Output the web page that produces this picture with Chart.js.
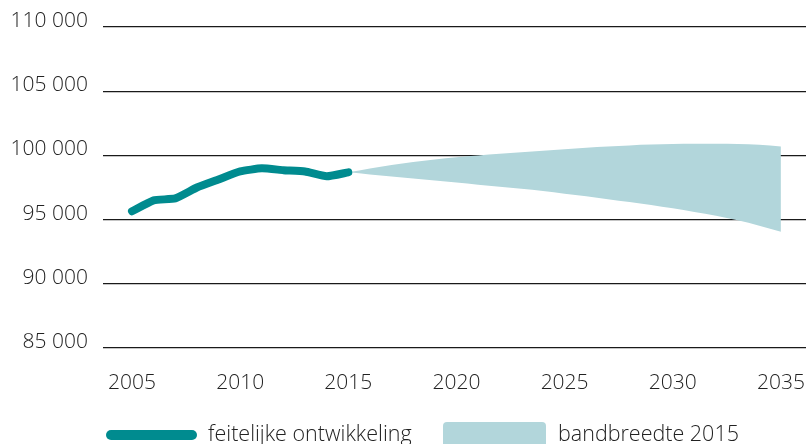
<!DOCTYPE html>
<html>
<head>
<meta charset="utf-8">
<script src="https://cdn.jsdelivr.net/npm/chart.js@4"></script>
<style>
  body { margin: 0; background: #fff; }
  #wrap { position: relative; width: 806px; height: 444px; overflow: hidden; font-family: 'Open Sans', sans-serif; font-weight: 300; color: #222; }
  #chart { position: absolute; left: 0; top: 0; }
  .lg-line { position: absolute; left: 106px; top: 430px; width: 91px; height: 10px; border-radius: 5px; background: #008b8f; }
  .lg-box { position: absolute; left: 443px; top: 422px; width: 103px; height: 30px; border-radius: 4px; background: #b2d6db; }
  .lg-text { position: absolute; top: 422px; font-size: 21.5px; line-height: 21px; white-space: nowrap; }
</style>
</head>
<body>
<div id="wrap">
  <canvas id="chart" width="806" height="444"></canvas>
  <div class="lg-line"></div>
  <span class="lg-text" style="left:208px">feitelijke ontwikkeling</span>
  <div class="lg-box"></div>
  <span class="lg-text" style="left:558px">bandbreedte 2015</span>
</div>
<script>
// feitelijke ontwikkeling
const jaren = [2005, 2006, 2007, 2008, 2009, 2010, 2011, 2012, 2013, 2014, 2015];
const feitelijk = [95650, 96500, 96650, 97500, 98130, 98750, 98990, 98850, 98750, 98370, 98680];

// bandbreedte 2015
const bandJaren = [2015, 2016, 2017, 2018, 2019, 2020, 2021, 2022, 2023, 2024, 2025,
  2026, 2027, 2028, 2029, 2030, 2031, 2032, 2033, 2034, 2035];
const bandBoven = [98680, 98980, 99250, 99480, 99680, 99860, 99990, 100120, 100250, 100370, 100480,
  100600, 100700, 100780, 100840, 100880, 100900, 100910, 100890, 100820, 100700];
const bandOnder = [98680, 98520, 98360, 98200, 98040, 97880, 97720, 97560, 97400, 97220, 97020,
  96810, 96590, 96370, 96140, 95880, 95600, 95300, 94950, 94530, 94050];

const xTicks = [2005, 2010, 2015, 2020, 2025, 2030, 2035];
const yTicks = [85000, 90000, 95000, 100000, 105000, 110000];

const fontFam = "'Open Sans', sans-serif";

new Chart('chart', {
  type: 'line',
  data: {
    datasets: [
      {
        label: 'feitelijke ontwikkeling',
        data: jaren.map((j, i) => ({ x: j, y: feitelijk[i] })),
        borderColor: '#008b8f',
        borderWidth: 8,
        borderCapStyle: 'round',
        borderJoinStyle: 'round',
        pointRadius: 0,
        tension: 0.15,
        fill: false,
      },
      {
        label: 'onder',
        data: bandJaren.map((j, i) => ({ x: j, y: bandOnder[i] })),
        borderWidth: 0,
        pointRadius: 0,
        cubicInterpolationMode: 'monotone',
        fill: false,
      },
      {
        label: 'bandbreedte 2015',
        data: bandJaren.map((j, i) => ({ x: j, y: bandBoven[i] })),
        borderWidth: 0,
        pointRadius: 0,
        cubicInterpolationMode: 'monotone',
        backgroundColor: '#b2d6db',
        fill: '-1',
      },
    ],
  },
  options: {
    responsive: false,
    animation: false,
    layout: { padding: { top: 27, left: 0, right: 0, bottom: 0 } },
    plugins: { legend: { display: false }, tooltip: { enabled: false } },
    scales: {
      x: {
        type: 'linear',
        min: 2003.66,
        max: 2036.16,
        afterBuildTicks: (s) => { s.ticks = xTicks.map((v) => ({ value: v })); },
        afterFit: (s) => { s.height = 96; s.paddingLeft = 0; s.paddingRight = 0; },
        grid: { display: false, drawTicks: false },
        border: { display: false },
        ticks: {
          padding: 22,
          maxRotation: 0,
          color: '#222',
          font: { family: fontFam, size: 21, weight: 300 },
          callback: (v) => String(v),
        },
      },
      y: {
        min: 85000,
        max: 110000,
        afterBuildTicks: (s) => { s.ticks = yTicks.map((v) => ({ value: v })); },
        afterFit: (s) => { s.width = 103; s.paddingTop = 0; s.paddingBottom = 0; },
        grid: { color: '#1a1a1a', lineWidth: 1.3, drawTicks: false },
        border: { display: false },
        ticks: {
          padding: 15,
          labelOffset: -6,
          color: '#222',
          font: { family: fontFam, size: 21, weight: 300 },
          callback: (v) => Math.round(v / 1000) + ' 000',
        },
      },
    },
  },
});
</script>
</body>
</html>
